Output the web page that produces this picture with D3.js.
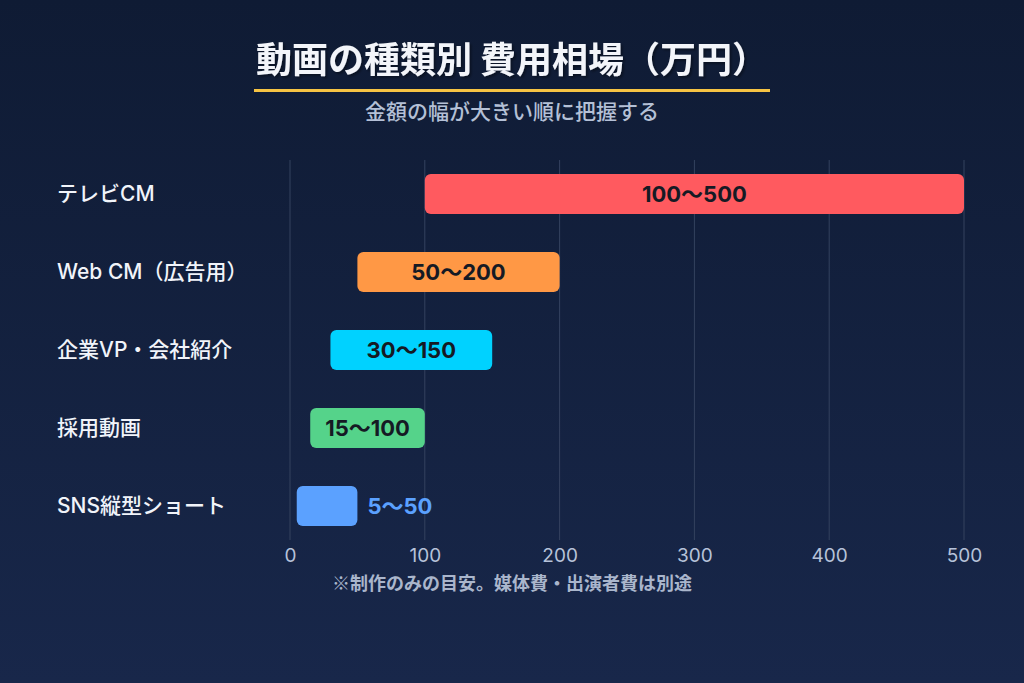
<!DOCTYPE html>
<html>
<head>
<meta charset="utf-8">
<script src="https://cdn.jsdelivr.net/npm/d3@7"></script>
<style>
  html, body { margin: 0; padding: 0; }
  body { width: 1024px; height: 683px; overflow: hidden; font-family: "Noto Sans CJK JP", "Noto Sans", sans-serif; }
</style>
</head>
<body>
<svg id="chart" width="1024" height="683"></svg>
<script>
// data (万円)
var categories = ["テレビCM", "Web CM（広告用）", "企業VP・会社紹介", "採用動画", "SNS縦型ショート"];
var lows  = [100, 50, 30, 15, 5];
var highs = [500, 200, 150, 100, 50];
var colors = ["#ff5a5f", "#ff9845", "#00d2ff", "#55d38a", "#5ba1ff"];
var ticks = [0, 100, 200, 300, 400, 500];

var latin = "Inter, \"Noto Sans CJK JP\", sans-serif";

var rows = categories.map(function (c, i) {
  return { name: c, lo: lows[i], hi: highs[i], color: colors[i] };
});

var svg = d3.select("#chart");

var defs = svg.append("defs");
var grad = defs.append("linearGradient")
    .attr("id", "bg").attr("x1", 0).attr("y1", 0).attr("x2", 0).attr("y2", 1);
grad.append("stop").attr("offset", "0%").attr("stop-color", "#0f1b34");
grad.append("stop").attr("offset", "100%").attr("stop-color", "#18274a");

var shadow = defs.append("filter").attr("id", "shadow")
    .attr("x", "-10%").attr("y", "-30%").attr("width", "120%").attr("height", "160%");
shadow.append("feDropShadow")
    .attr("dx", 2).attr("dy", 2).attr("stdDeviation", 1.2)
    .attr("flood-color", "#000").attr("flood-opacity", 0.35);

svg.append("rect").attr("width", 1024).attr("height", 683).attr("fill", "url(#bg)");

// title
svg.append("text")
    .attr("x", 512).attr("y", 73)
    .attr("text-anchor", "middle")
    .attr("fill", "#f3f5fa")
    .attr("filter", "url(#shadow)")
    .style("font-size", "36px").style("font-weight", 700)
    .text("動画の種類別 費用相場（万円）");

svg.append("rect")
    .attr("x", 254).attr("y", 89).attr("width", 516).attr("height", 3)
    .attr("fill", "#f6c343");

svg.append("text")
    .attr("x", 512).attr("y", 119)
    .attr("text-anchor", "middle")
    .attr("fill", "#b4c0d6")
    .style("font-size", "21px").style("font-weight", 500)
    .text("金額の幅が大きい順に把握する");

var x = d3.scaleLinear().domain([0, 500]).range([290, 964]);
var y = d3.scaleBand().domain(categories).range([155, 545]).paddingInner(0.487).paddingOuter(0.245);

// grid
svg.append("g").selectAll("line")
    .data(ticks)
  .enter().append("line")
    .attr("x1", function (d) { return x(d); })
    .attr("x2", function (d) { return x(d); })
    .attr("y1", 160).attr("y2", 540)
    .attr("stroke", "#34425f").attr("stroke-width", 1);

// axis tick labels
var xAxis = d3.axisBottom(x).tickValues(ticks).tickSize(0).tickPadding(0);
var ax = svg.append("g").attr("transform", "translate(0,548)").call(xAxis);
ax.select(".domain").remove();
ax.selectAll("text")
    .attr("dy", "0.71em")
    .attr("fill", "#b6c2d9")
    .style("font-family", latin)
    .style("font-size", "19px");

// category labels
svg.append("g").selectAll("text")
    .data(rows)
  .enter().append("text")
    .attr("x", 57)
    .attr("y", function (d) { return y(d.name) + y.bandwidth() / 2; })
    .attr("dy", "0.35em")
    .attr("fill", "#f1f4fa")
    .style("font-family", latin)
    .style("font-size", "21px").style("font-weight", 500)
    .text(function (d) { return d.name; });

// bars
svg.append("g").selectAll("rect")
    .data(rows)
  .enter().append("rect")
    .attr("x", function (d) { return x(d.lo); })
    .attr("y", function (d) { return y(d.name); })
    .attr("width", function (d) { return x(d.hi) - x(d.lo); })
    .attr("height", y.bandwidth())
    .attr("rx", 6)
    .attr("fill", function (d) { return d.color; });

// value labels: inside when the bar is wide enough, else to the right
svg.append("g").selectAll("text")
    .data(rows)
  .enter().append("text")
    .each(function (d) {
      var w = x(d.hi) - x(d.lo);
      var inside = w > 80;
      d3.select(this)
        .attr("x", inside ? (x(d.lo) + x(d.hi)) / 2 : x(d.hi) + 10)
        .attr("text-anchor", inside ? "middle" : "start")
        .attr("fill", inside ? "#151a24" : d.color);
    })
    .attr("y", function (d) { return y(d.name) + y.bandwidth() / 2; })
    .attr("dy", "0.35em")
    .style("font-family", latin)
    .style("font-size", "22px").style("font-weight", 700)
    .text(function (d) { return d.lo + "〜" + d.hi; });

// footnote
svg.append("text")
    .attr("x", 512).attr("y", 590)
    .attr("text-anchor", "middle")
    .attr("fill", "#aab6cc")
    .style("font-size", "18px").style("font-weight", 700)
    .text("※制作のみの目安。媒体費・出演者費は別途");
</script>
</body>
</html>
